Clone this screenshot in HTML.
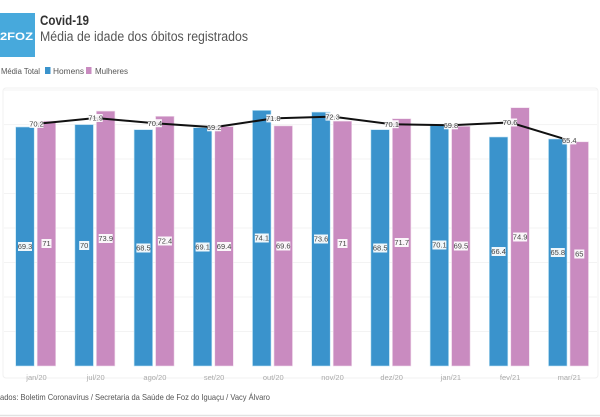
<!DOCTYPE html>
<html><head><meta charset="utf-8"><style>
html,body{margin:0;padding:0;background:#fff;}
svg{display:block;}
text{font-family:"Liberation Sans",sans-serif;}
</style></head><body>
<svg width="600" height="417" viewBox="0 0 600 417" xmlns="http://www.w3.org/2000/svg">
<rect x="0" y="0" width="600" height="417" fill="#fff"/>
<!-- logo -->
<rect x="0" y="13" width="35" height="44" fill="#47a9dc"/>
<text x="0" y="40" font-size="11" font-weight="bold" fill="#fff" textLength="33" lengthAdjust="spacingAndGlyphs">2FOZ</text>
<!-- titles -->
<text x="40" y="25" font-size="13.5" font-weight="bold" fill="#333" textLength="49" lengthAdjust="spacingAndGlyphs">Covid-19</text>
<text x="40" y="41" font-size="13.5" fill="#555" textLength="208" lengthAdjust="spacingAndGlyphs">Média de idade dos óbitos registrados</text>
<!-- legend -->
<text x="1" y="74" font-size="8" fill="#555" textLength="39" lengthAdjust="spacingAndGlyphs">Média Total</text>
<rect x="45" y="67" width="5.5" height="7" fill="#3a93cc"/>
<text x="53" y="74" font-size="8" fill="#555" textLength="31" lengthAdjust="spacingAndGlyphs">Homens</text>
<rect x="86" y="67" width="5.5" height="7" fill="#c98bc0"/>
<text x="95" y="74" font-size="8" fill="#555" textLength="33" lengthAdjust="spacingAndGlyphs">Mulheres</text>
<!-- frame -->
<rect x="3" y="88" width="595" height="290" fill="none" stroke="#f0f0f0" stroke-width="1" rx="3"/>
<!-- gridlines -->
<g stroke="#f3f3f3" stroke-width="1">
<line x1="4" x2="597" y1="90" y2="90"/>
<line x1="4" x2="597" y1="124.6" y2="124.6"/>
<line x1="4" x2="597" y1="159" y2="159"/>
<line x1="4" x2="597" y1="193.5" y2="193.5"/>
<line x1="4" x2="597" y1="228" y2="228"/>
<line x1="4" x2="597" y1="262.5" y2="262.5"/>
<line x1="4" x2="597" y1="297" y2="297"/>
<line x1="4" x2="597" y1="331.5" y2="331.5"/>
</g>
<g id="bars"></g>
<g id="line"></g>
<g id="labels"></g>
<!-- source -->
<text x="0" y="400" font-size="8.5" fill="#555" textLength="270" lengthAdjust="spacingAndGlyphs">ados: Boletim Coronavírus / Secretaria da Saúde de Foz do Iguaçu / Vacy Álvaro</text>
<line x1="0" x2="600" y1="415.5" y2="415.5" stroke="#e2e2e2" stroke-width="1.5"/>

<g>
<!-- bars generated statically -->
<rect x="15.7" y="127" width="18.5" height="239" fill="#3a93cc" stroke="#bfe3f3" stroke-width="0.6"/>
<rect x="37.2" y="121.1" width="18.5" height="244.9" fill="#c98bc0" stroke="#f0dcec" stroke-width="0.6"/>
<rect x="74.9" y="124.6" width="18.5" height="241.4" fill="#3a93cc" stroke="#bfe3f3" stroke-width="0.6"/>
<rect x="96.4" y="111.1" width="18.5" height="254.9" fill="#c98bc0" stroke="#f0dcec" stroke-width="0.6"/>
<rect x="134.1" y="129.7" width="18.5" height="236.3" fill="#3a93cc" stroke="#bfe3f3" stroke-width="0.6"/>
<rect x="155.6" y="116.3" width="18.5" height="249.7" fill="#c98bc0" stroke="#f0dcec" stroke-width="0.6"/>
<rect x="193.3" y="127.7" width="18.5" height="238.3" fill="#3a93cc" stroke="#bfe3f3" stroke-width="0.6"/>
<rect x="214.8" y="126.6" width="18.5" height="239.4" fill="#c98bc0" stroke="#f0dcec" stroke-width="0.6"/>
<rect x="252.5" y="110.4" width="18.5" height="255.6" fill="#3a93cc" stroke="#bfe3f3" stroke-width="0.6"/>
<rect x="274.0" y="125.9" width="18.5" height="240.1" fill="#c98bc0" stroke="#f0dcec" stroke-width="0.6"/>
<rect x="311.7" y="112.1" width="18.5" height="253.9" fill="#3a93cc" stroke="#bfe3f3" stroke-width="0.6"/>
<rect x="333.2" y="121.1" width="18.5" height="244.9" fill="#c98bc0" stroke="#f0dcec" stroke-width="0.6"/>
<rect x="370.9" y="129.7" width="18.5" height="236.3" fill="#3a93cc" stroke="#bfe3f3" stroke-width="0.6"/>
<rect x="392.4" y="118.7" width="18.5" height="247.3" fill="#c98bc0" stroke="#f0dcec" stroke-width="0.6"/>
<rect x="430.1" y="124.2" width="18.5" height="241.8" fill="#3a93cc" stroke="#bfe3f3" stroke-width="0.6"/>
<rect x="451.6" y="126.3" width="18.5" height="239.7" fill="#c98bc0" stroke="#f0dcec" stroke-width="0.6"/>
<rect x="489.3" y="137" width="18.5" height="229" fill="#3a93cc" stroke="#bfe3f3" stroke-width="0.6"/>
<rect x="510.8" y="107.7" width="18.5" height="258.3" fill="#c98bc0" stroke="#f0dcec" stroke-width="0.6"/>
<rect x="548.5" y="139" width="18.5" height="227" fill="#3a93cc" stroke="#bfe3f3" stroke-width="0.6"/>
<rect x="570.0" y="141.8" width="18.5" height="224.2" fill="#c98bc0" stroke="#f0dcec" stroke-width="0.6"/>
</g>

<!-- average line -->
<polyline fill="none" stroke="#111" stroke-width="2" stroke-linejoin="round"
points="36.5,123.9 95.7,118.0 154.9,123.2 214.1,127.3 273.3,118.4 332.5,116.6 391.7,124.2 450.9,125.3 510.1,122.5 569.3,140.4"/>

<!-- line labels -->
<g font-size="7.5" fill="#444" text-anchor="middle">
<rect x="29.5" y="119.9" width="14" height="8" fill="#fff" opacity="0.9"/><text x="36.5" y="126.6">70.2</text>
<rect x="88.7" y="114" width="14" height="8" fill="#fff" opacity="0.9"/><text x="95.7" y="120.7">71.9</text>
<rect x="147.9" y="119.2" width="14" height="8" fill="#fff" opacity="0.9"/><text x="154.9" y="125.9">70.4</text>
<rect x="207.1" y="123.3" width="14" height="8" fill="#fff" opacity="0.9"/><text x="214.1" y="130">69.2</text>
<rect x="266.3" y="114.4" width="14" height="8" fill="#fff" opacity="0.9"/><text x="273.3" y="121.1">71.8</text>
<rect x="325.5" y="112.6" width="14" height="8" fill="#fff" opacity="0.9"/><text x="332.5" y="119.3">72.3</text>
<rect x="384.7" y="120.2" width="14" height="8" fill="#fff" opacity="0.9"/><text x="391.7" y="126.9">70.1</text>
<rect x="443.9" y="121.3" width="14" height="8" fill="#fff" opacity="0.9"/><text x="450.9" y="128">69.8</text>
<rect x="503.1" y="118.5" width="14" height="8" fill="#fff" opacity="0.9"/><text x="510.1" y="125.2">70.6</text>
<rect x="562.3" y="136.4" width="14" height="8" fill="#fff" opacity="0.9"/><text x="569.3" y="143.1">65.4</text>
</g>

<!-- bar value labels -->
<g font-size="7.5" fill="#444" text-anchor="middle">
<rect x="18" y="242" width="14" height="9" fill="#fff" opacity="0.92"/><text x="25" y="249.2">69.3</text>
<rect x="41.5" y="239" width="10" height="9" fill="#fff" opacity="0.92"/><text x="46.5" y="246.2">71</text>
<rect x="79.2" y="241" width="10" height="9" fill="#fff" opacity="0.92"/><text x="84.2" y="248.2">70</text>
<rect x="98.7" y="234" width="14" height="9" fill="#fff" opacity="0.92"/><text x="105.7" y="241.2">73.9</text>
<rect x="136.4" y="243.5" width="14" height="9" fill="#fff" opacity="0.92"/><text x="143.4" y="250.7">68.5</text>
<rect x="157.9" y="236.5" width="14" height="9" fill="#fff" opacity="0.92"/><text x="164.9" y="243.7">72.4</text>
<rect x="195.6" y="242.5" width="14" height="9" fill="#fff" opacity="0.92"/><text x="202.6" y="249.7">69.1</text>
<rect x="217.1" y="242" width="14" height="9" fill="#fff" opacity="0.92"/><text x="224.1" y="249.2">69.4</text>
<rect x="254.8" y="233.5" width="14" height="9" fill="#fff" opacity="0.92"/><text x="261.8" y="240.7">74.1</text>
<rect x="276.3" y="241.5" width="14" height="9" fill="#fff" opacity="0.92"/><text x="283.3" y="248.7">69.6</text>
<rect x="314" y="234.5" width="14" height="9" fill="#fff" opacity="0.92"/><text x="321" y="241.7">73.6</text>
<rect x="337.5" y="239" width="10" height="9" fill="#fff" opacity="0.92"/><text x="342.5" y="246.2">71</text>
<rect x="373.2" y="243.5" width="14" height="9" fill="#fff" opacity="0.92"/><text x="380.2" y="250.7">68.5</text>
<rect x="394.7" y="238" width="14" height="9" fill="#fff" opacity="0.92"/><text x="401.7" y="245.2">71.7</text>
<rect x="432.4" y="240.5" width="14" height="9" fill="#fff" opacity="0.92"/><text x="439.4" y="247.7">70.1</text>
<rect x="453.9" y="241.5" width="14" height="9" fill="#fff" opacity="0.92"/><text x="460.9" y="248.7">69.5</text>
<rect x="491.6" y="247" width="14" height="9" fill="#fff" opacity="0.92"/><text x="498.6" y="254.2">66.4</text>
<rect x="513.1" y="232.5" width="14" height="9" fill="#fff" opacity="0.92"/><text x="520.1" y="239.7">74.9</text>
<rect x="550.8" y="248" width="14" height="9" fill="#fff" opacity="0.92"/><text x="557.8" y="255.2">65.8</text>
<rect x="574.3" y="249.5" width="10" height="9" fill="#fff" opacity="0.92"/><text x="579.3" y="256.7">65</text>
</g>

<!-- x labels -->
<g font-size="7.5" fill="#aaa" text-anchor="middle">
<text x="36.5" y="380">jan/20</text>
<text x="95.7" y="380">jul/20</text>
<text x="154.9" y="380">ago/20</text>
<text x="214.1" y="380">set/20</text>
<text x="273.3" y="380">out/20</text>
<text x="332.5" y="380">nov/20</text>
<text x="391.7" y="380">dez/20</text>
<text x="450.9" y="380">jan/21</text>
<text x="510.1" y="380">fev/21</text>
<text x="569.3" y="380">mar/21</text>
</g>
</svg>
</body></html>
